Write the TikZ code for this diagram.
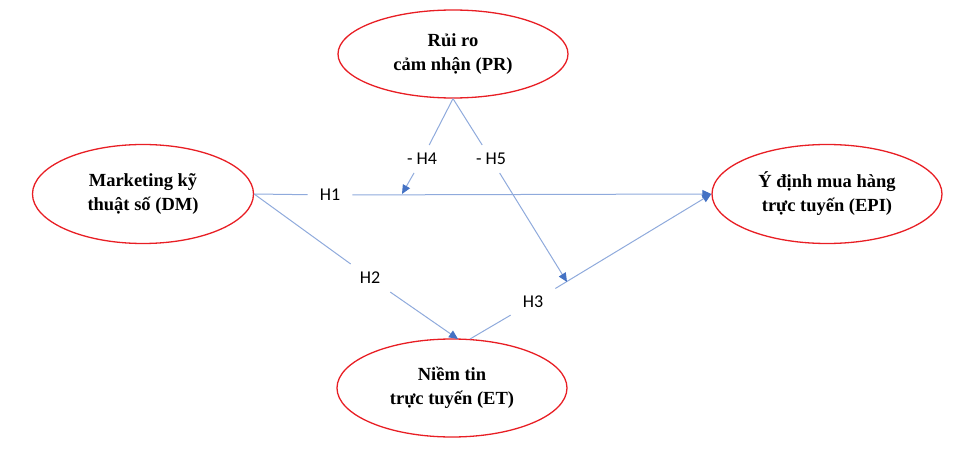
\documentclass[tikz,border=0pt]{standalone}
\usepackage{fontspec}
\setmainfont{Liberation Serif}
\newfontfamily\lblfont{Carlito}
\usetikzlibrary{shapes.geometric,arrows.meta}
\definecolor{ellred}{RGB}{232,30,36}
\definecolor{linblue}{RGB}{143,170,220}
\definecolor{tipblue}{RGB}{68,114,196}
\tikzset{
  construct/.style={ellipse,draw=ellred,line width=1.3pt,inner sep=0pt,
    font=\fontsize{18.5}{24}\selectfont\bfseries,align=center},
  conn/.style={draw=linblue,line width=1pt},
  arr/.style={conn,-{Triangle[length=9pt,width=8pt,fill=tipblue,color=tipblue]}},
  hlabel/.style={fill=white,inner xsep=12pt,inner ysep=8pt,font=\lblfont\fontsize{18}{21}\selectfont}
}
\begin{document}
\begin{tikzpicture}[x=1pt,y=-1pt]
\useasboundingbox (0,0) rectangle (953,449);
% constructs
\node[construct,minimum width=230pt,minimum height=88pt] (PR) at (453,54) {Rủi ro\\cảm nhận (PR)};
\node[construct,minimum width=221pt,minimum height=99pt] (DM) at (143,194) {Marketing kỹ\\thuật số (DM)};
\node[construct,minimum width=230pt,minimum height=99pt] (EPI) at (827,194) {Ý định mua hàng\\trực tuyến (EPI)};
\node[construct,minimum width=230pt,minimum height=98pt] (ET) at (452,388) {Niềm tin\\trực tuyến (ET)};
% labels
\node[hlabel] (lH1) at (330,195) {H1};
\node[hlabel] (lH2) at (370,278) {H2};
\node[hlabel] (lH3) at (533,302) {H3};
\node[hlabel] (lH4) at (422,159) {- H4};
\node[hlabel] (lH5) at (491,159) {- H5};
% junction points
\coordinate (j1) at (402,194);
\coordinate (j2) at (567,282);
\coordinate (etin) at (458,339);
\coordinate (etout) at (470,339);
% connectors
\draw[conn] (DM.east) -- (lH1);
\draw[arr] (lH1) -- (EPI.west);
\draw[conn] (DM.east) -- (lH2);
\draw[arr] (lH2) -- (etin);
\draw[conn] (etout) -- (lH3);
\draw[arr] (lH3) -- (EPI.west);
\draw[conn] (PR.south) -- (lH4);
\draw[arr] (lH4) -- (j1);
\draw[conn] (PR.south) -- (lH5);
\draw[arr] (lH5) -- (j2);
\end{tikzpicture}
\end{document}
